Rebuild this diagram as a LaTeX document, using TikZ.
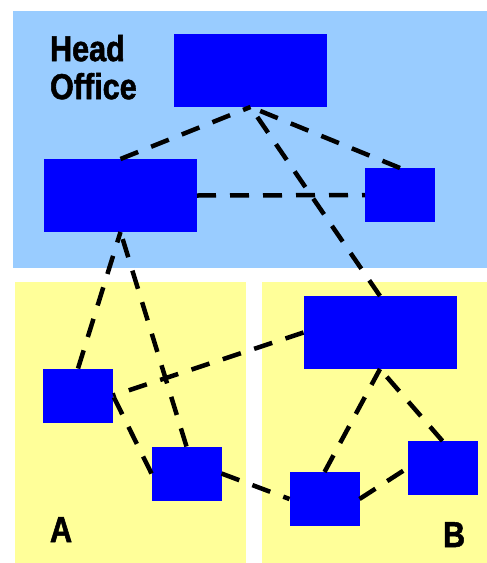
\documentclass[tikz,border=0pt]{standalone}
\usepackage{fontspec}
\newfontfamily\officefont[FakeStretch=0.85, BoldFeatures={FakeBold=1.5}]{Liberation Sans}
\usepackage{tikz}
\definecolor{hoblue}{RGB}{153,204,255}
\definecolor{siteyellow}{RGB}{255,255,153}
\definecolor{unitblue}{RGB}{0,0,255}
\tikzset{
  every node/.style={inner sep=0pt, outer sep=0pt},
  unit/.style={fill=unitblue, minimum width=70pt, minimum height=54pt},
  bigunit/.style={unit, minimum width=153pt, minimum height=73pt},
  link/.style={draw, line width=4.5pt, dash pattern=on 19pt off 14pt},
  sitelabel/.style={font=\officefont\bfseries\fontsize{36}{38}\selectfont, align=left},
}

\begin{document}
\begin{tikzpicture}[x=1pt, y=-1pt]
      \useasboundingbox (0,0) rectangle (487,563);
      \fill[white] (0,0) rectangle (487,563);
      \fill[hoblue] (13,11) rectangle (487,268);
      \fill[siteyellow] (15,282) rectangle (246,563);
      \fill[siteyellow] (262,282) rectangle (487,563);

      \node (hoLabel) [sitelabel, anchor=north west] at (50,35) {Head\\Office};
      \node (aLabel) [sitelabel, anchor=base west] at (50,542) {A};
      \node (bLabel) [sitelabel, anchor=base west] at (443,547) {B};

      \node (hoTop) [bigunit] at (250.5,70.5) {};
      \node (hoLeft) [bigunit] at (120.5,195.5) {};
      \node (hoRight) [unit] at (400,195) {};
      \node (bTop) [bigunit] at (380,332.5) {};
      \node (aLeft) [unit] at (78,395.5) {};
      \node (aBottom) [unit] at (186.5,473.5) {};
      \node (bLeft) [unit] at (324.5,499) {};
      \node (bRight) [unit] at (442.5,468) {};

      \draw[link] (hoLeft.north) -- (hoTop.south);
      \draw[link] (hoRight.north) -- (hoTop.south);
      \draw[link] (bTop.north) -- (hoTop.south);
      \draw[link] (hoLeft.east) -- (hoRight.west);
      \draw[link] (aLeft.north) -- (hoLeft.south);
      \draw[link] (aBottom.north) -- (hoLeft.south);
      \draw[link] (bTop.west) -- (aLeft.east);
      \draw[link] (aBottom.west) -- (aLeft.east);
      \draw[link] (aBottom.east) -- (bLeft.west);
      \draw[link] (bLeft.east) -- (bRight.west);
      \draw[link] (bLeft.north) -- (bTop.south);
      \draw[link] (bRight.north) -- (bTop.south);
\end{tikzpicture}
\end{document}
